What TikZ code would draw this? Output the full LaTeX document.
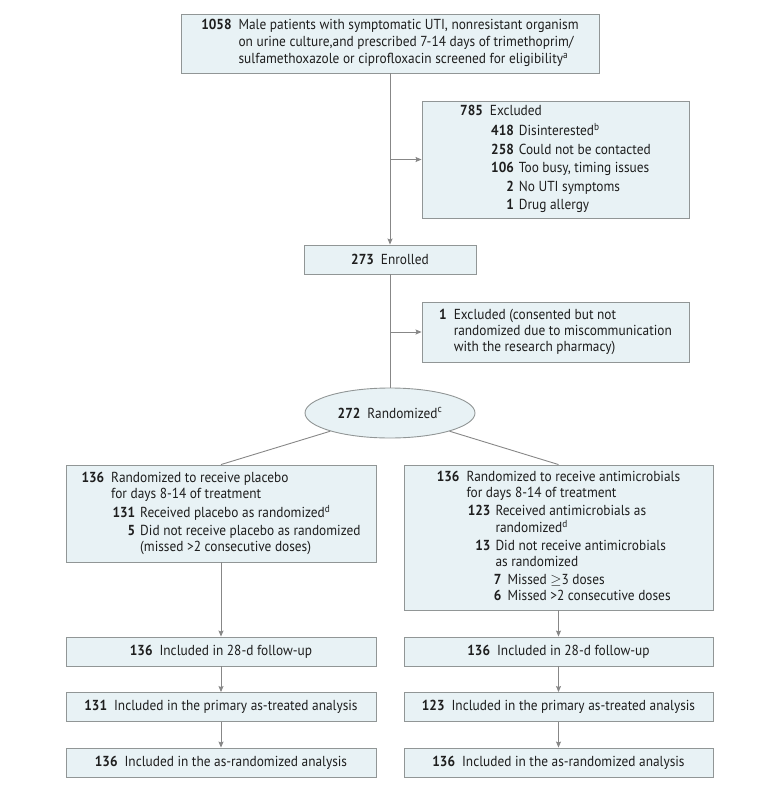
\documentclass[tikz,border=0pt]{standalone}
\usepackage{fontspec}
\setmainfont{PT Sans}[FakeStretch=0.92]
\usetikzlibrary{shapes.geometric,arrows.meta}
\definecolor{boxfill}{RGB}{232,242,245}
\definecolor{boxline}{RGB}{145,150,150}
\definecolor{conn}{RGB}{135,135,135}
\definecolor{txt}{RGB}{30,30,30}
\newcommand{\nm}[1]{\textbf{#1}}
\newcommand{\sitem}[2]{\makebox[24pt][r]{\textbf{#1}}\hspace{5pt}#2}
\newcommand{\cont}{\hspace{29pt}}
\tikzset{
  flowbox/.style={draw=boxline, fill=boxfill, line width=0.9pt, inner sep=0pt, align=center, text=txt,
    font=\fontsize{14.5}{16}\selectfont},
  conline/.style={draw=conn, line width=0.9pt},
  arr/.style={conline, -{Stealth[length=6pt,width=5pt,inset=1pt]}}
}
\begin{document}
\begin{tikzpicture}[x=1pt,y=-1pt]
\useasboundingbox (0,0) rectangle (780,789);
\node[flowbox, minimum width=418, minimum height=59] (b1) at (390,43.5) {%
\begin{tabular}{@{}r@{\hspace{7pt}}l@{}}
\nm{1058} & Male patients with symptomatic UTI, nonresistant organism\\[1pt]
 & on urine culture,and prescribed 7-14 days of trimethoprim/\\[1pt]
 & sulfamethoxazole or ciprofloxacin screened for eligibility\textsuperscript{a}
\end{tabular}};
\node[flowbox, minimum width=267, minimum height=117] (ex1) at (555.5,159.5) {%
\begin{tabular}{@{}r@{\hspace{7pt}}l@{}}
\nm{785} & Excluded\\[2.5pt]
 & \sitem{418}{Disinterested\textsuperscript{b}}\\[2.5pt]
 & \sitem{258}{Could not be contacted}\\[2.5pt]
 & \sitem{106}{Too busy, timing issues}\\[2.5pt]
 & \sitem{2}{No UTI symptoms}\\[2.5pt]
 & \sitem{1}{Drug allergy}
\end{tabular}};
\node[flowbox, minimum width=172, minimum height=29] (enr) at (390,259.5) {\nm{273}\hspace{7pt}Enrolled};
\node[flowbox, minimum width=267, minimum height=60] (ex2) at (555.5,332) {%
\begin{tabular}{@{}r@{\hspace{7pt}}l@{}}
\nm{1} & Excluded (consented but not\\
 & randomized due to miscommunication\\
 & with the research pharmacy)
\end{tabular}};
\node[flowbox, ellipse, minimum width=170, minimum height=50] (ell) at (390,413) {\nm{272}\hspace{7pt}Randomized\textsuperscript{c}};
\node[flowbox, minimum width=310, minimum height=97] (lb) at (221,513.5) {%
\begin{tabular}{@{}r@{\hspace{7pt}}l@{}}
\nm{136} & Randomized to receive placebo\\
 & for days 8-14 of treatment\\[2pt]
 & \sitem{131}{Received placebo as randomized\textsuperscript{d}}\\[2pt]
 & \sitem{5}{Did not receive placebo as randomized}\\
 & \cont(missed >2 consecutive doses)
\end{tabular}};
\node[flowbox, minimum width=309, minimum height=145] (rb) at (558.5,537.5) {%
\begin{tabular}{@{}r@{\hspace{7pt}}l@{}}
\nm{136} & Randomized to receive antimicrobials\\
 & for days 8-14 of treatment\\[2pt]
 & \sitem{123}{Received antimicrobials as}\\
 & \cont randomized\textsuperscript{d}\\[2pt]
 & \sitem{13}{Did not receive antimicrobials}\\
 & \cont as randomized\\[2pt]
 & \cont\makebox[6pt][r]{\nm{7}}\hspace{6pt}Missed $\geq$3 doses\\
 & \cont\makebox[6pt][r]{\nm{6}}\hspace{6pt}Missed >2 consecutive doses
\end{tabular}};
\node[flowbox, minimum width=310, minimum height=29] (l1) at (221,651.5) {\nm{136}\hspace{7pt}Included in 28-d follow-up};
\node[flowbox, minimum width=310, minimum height=29] (l2) at (221,707) {\nm{131}\hspace{7pt}Included in the primary as-treated analysis};
\node[flowbox, minimum width=310, minimum height=29] (l3) at (221,762.5) {\nm{136}\hspace{7pt}Included in the as-randomized analysis};
\node[flowbox, minimum width=309, minimum height=29] (r1) at (558.5,651.5) {\nm{136}\hspace{7pt}Included in 28-d follow-up};
\node[flowbox, minimum width=309, minimum height=29] (r2) at (558.5,707) {\nm{123}\hspace{7pt}Included in the primary as-treated analysis};
\node[flowbox, minimum width=309, minimum height=29] (r3) at (558.5,762.5) {\nm{136}\hspace{7pt}Included in the as-randomized analysis};
\coordinate (j1) at (b1.south |- ex1.west);
\coordinate (j2) at (b1.south |- ex2.west);
\draw[arr] (b1.south) -- (enr.north);
\draw[arr] (j1) -- (ex1.west);
\draw[conline] (enr.south) -- (ell.north);
\draw[arr] (j2) -- (ex2.west);
\draw[conline] (ell) -- (lb.north);
\draw[conline] (ell) -- (rb.north);
\draw[arr] (lb.south) -- (l1.north);
\draw[arr] (l1.south) -- (l2.north);
\draw[arr] (l2.south) -- (l3.north);
\draw[arr] (rb.south) -- (r1.north);
\draw[arr] (r1.south) -- (r2.north);
\draw[arr] (r2.south) -- (r3.north);
\end{tikzpicture}
\end{document}
